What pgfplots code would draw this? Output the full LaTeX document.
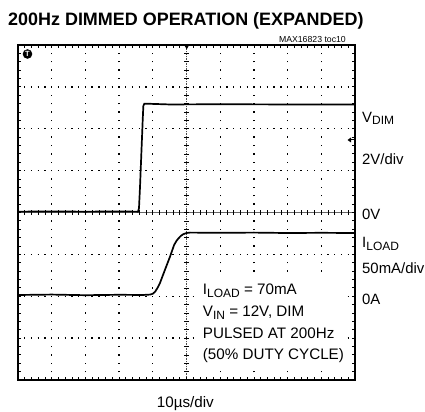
\documentclass[border=0pt]{standalone}
\usepackage{pgfplots}
\pgfplotsset{compat=1.18}
\usepackage{fontspec}
\setmainfont{Liberation Sans}
\newcommand\sub[1]{\raisebox{-2.5bp}{\fontsize{12bp}{12bp}\selectfont #1}}
\begin{document}
\begin{tikzpicture}[x=1bp,y=1bp]
\useasboundingbox (0,0) rectangle (425,412);
% screen decorations (graticule)
\begin{scope}[shift={(18bp,199.5bp)}, x=33.7bp, y=41.875bp]
 \foreach \i in {1,2,3,4,6,7,8,9}
   \draw[line width=1.3bp, dash pattern=on 1.3bp off 7.075bp, dash phase=0.65bp] (\i,-4) -- (\i,4);
 \foreach \j in {-3,-2,-1,1,2,3}
   \draw[line width=1.3bp, dash pattern=on 1.3bp off 5.44bp, dash phase=0.65bp] (0,\j) -- (10,\j);
 \draw[black!60, line width=0.7bp] (0,0) -- (10,0);
 \draw[black!70, line width=0.7bp, dash pattern=on 1.5bp off 1bp] (5,-4) -- (5,4);
 \foreach \k in {1,...,49} \draw[line width=0.7bp] (\k/5,0) ++(0,-2.5bp) -- ++(0,5bp);
 \foreach \k in {1,...,39} \draw[line width=0.7bp] (5,\k/5-4) ++(-2.5bp,0) -- ++(5bp,0);
 \foreach \k in {1,...,49} {\draw[line width=0.8bp] (\k/5,4) -- ++(0,-3bp); \draw[line width=0.8bp] (\k/5,-4) -- ++(0,3bp);}
 \foreach \k in {1,...,39} {\draw[line width=0.8bp] (0,\k/5-4) -- ++(3bp,0); \draw[line width=0.8bp] (10,\k/5-4) -- ++(-3bp,0);}
\end{scope}
\fill[white] (197,44) rectangle (344,133);
\begin{axis}[at={(18bp,32bp)}, anchor=south west, scale only axis,
  width=337bp, height=335bp, xmin=0, xmax=10, ymin=-4, ymax=4,
  xtick=\empty, ytick=\empty, axis line style={line width=2.2bp}]
\addplot[black, line width=1.7bp] coordinates {
 (0,0.02) (1,0.025) (2,0.02) (3,0.025) (3.56,0.02) (3.59,0.1) (3.62,0.6)
 (3.66,1.4) (3.70,2.2) (3.72,2.55) (3.75,2.6) (4.5,2.58) (6,2.585) (8,2.58) (10,2.58)};
\addplot[black, line width=1.7bp] coordinates {
 (0,-1.97) (1,-1.96) (2,-1.975) (3,-1.965) (3.7,-1.97) (3.92,-1.96) (4.0,-1.94)
 (4.07,-1.89) (4.14,-1.80) (4.21,-1.69) (4.36,-1.37) (4.51,-1.056) (4.63,-0.78)
 (4.70,-0.68) (4.76,-0.62) (4.83,-0.56) (4.90,-0.52) (5.0,-0.49) (5.10,-0.48)
 (6,-0.485) (7,-0.48) (8,-0.49) (9,-0.485) (10,-0.49)};
\end{axis}
% markers
\fill (27.5,358) circle (4.8bp);
\node[white, inner sep=0pt, font=\fontsize{7.5bp}{7.5bp}\bfseries\selectfont] at (27.5,358) {T};
\fill (184.3,367) -- (189.1,367) -- (186.7,362.5) -- cycle;
\fill (347.5,272) -- (351,274.5) -- (351,269.5) -- cycle;
\draw[line width=1bp] (350,272) -- (354,272);
% texts
\node[anchor=base west, inner sep=0pt, font=\fontsize{17.95bp}{20bp}\bfseries\selectfont] at (8,386.6) {200Hz DIMMED OPERATION (EXPANDED)};
\node[anchor=base east, inner sep=0pt, font=\fontsize{8.7bp}{10bp}\selectfont] at (346,369.3) {MAX16823 toc10};
\begin{scope}[every node/.style={anchor=base west, inner sep=0pt, font=\fontsize{14.9bp}{18bp}\selectfont}]
\node at (362,290) {V\sub{DIM}};
\node at (362,248) {2V/div};
\node at (362,193) {0V};
\node at (362,164.5) {I\sub{LOAD}};
\node at (362,138.7) {50mA/div};
\node at (362,108) {0A};
\end{scope}
\begin{scope}[every node/.style={anchor=base west, inner sep=0pt, font=\fontsize{15.2bp}{18bp}\selectfont}]
\node at (202.7,117.5) {I\sub{LOAD} = 70mA};
\node at (202.7,95.5) {V\sub{IN} = 12V, DIM};
\node at (202.7,74) {PULSED AT 200Hz};
\node at (202.7,52.5) {(50\% DUTY CYCLE)};
\node at (156.7,4.3) {10µs/div};
\end{scope}
\end{tikzpicture}
\end{document}
